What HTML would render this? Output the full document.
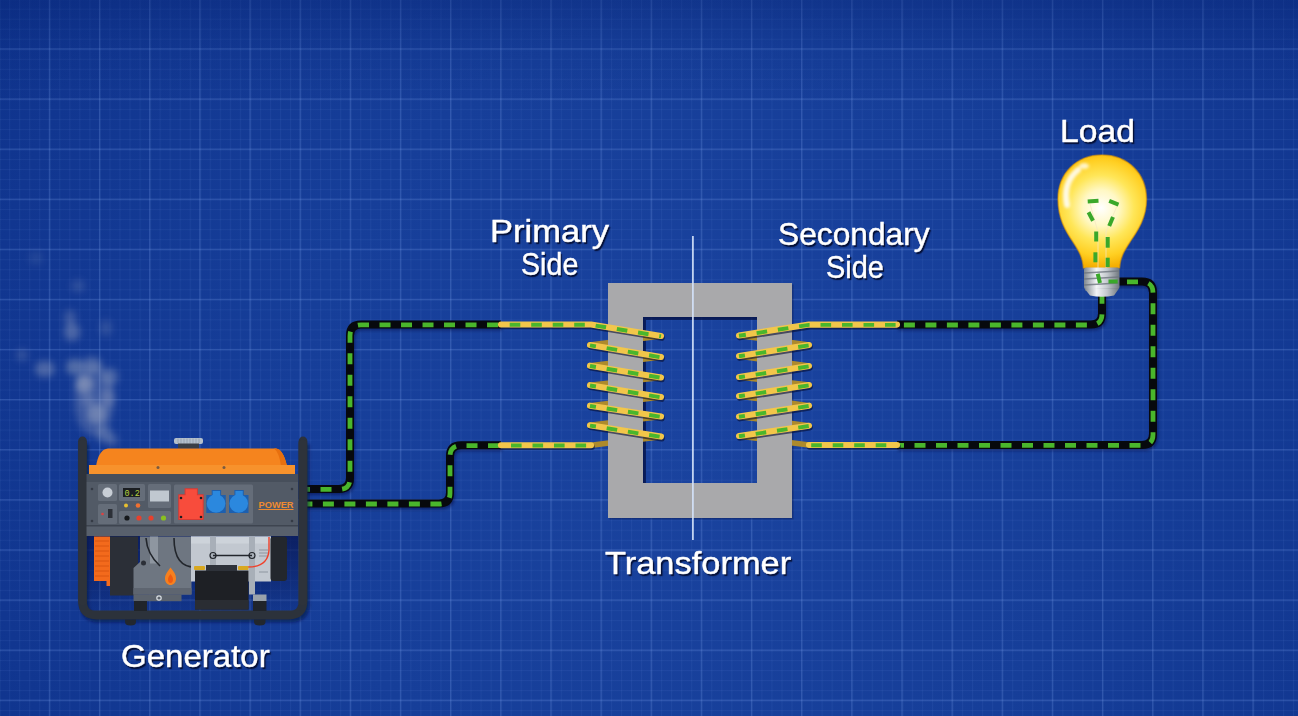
<!DOCTYPE html>
<html><head><meta charset="utf-8">
<style>
html,body{margin:0;padding:0;width:1298px;height:716px;overflow:hidden;background:#163e98;}
svg{display:block;position:absolute;left:0;top:0;}
.lbl{position:absolute;font-family:"Liberation Sans",sans-serif;font-size:32px;color:#fff;white-space:nowrap;line-height:1;
 -webkit-text-stroke:0.45px #fff;text-shadow:1.5px 1.8px 1.2px rgba(2,8,40,0.95);transform-origin:0 0;}
</style></head><body>
<svg width="1298" height="716" viewBox="0 0 1298 716">
<defs>
  <radialGradient id="bg" cx="700" cy="430" r="900" gradientUnits="userSpaceOnUse">
    <stop offset="0" stop-color="#1a439f"/>
    <stop offset="0.45" stop-color="#163e99"/>
    <stop offset="0.8" stop-color="#113690"/>
    <stop offset="1" stop-color="#0b2f88"/>
  </radialGradient>
  <linearGradient id="topdark" x1="0" y1="0" x2="0" y2="1">
    <stop offset="0" stop-color="#06206e" stop-opacity="0.3"/>
    <stop offset="0.07" stop-color="#06206e" stop-opacity="0.08"/>
    <stop offset="0.15" stop-color="#06206e" stop-opacity="0"/>
  </linearGradient>
  <pattern id="minor" x="49.3" y="48.8" width="10.03" height="10.02" patternUnits="userSpaceOnUse">
    <rect x="0" y="0" width="10.03" height="1" fill="#7096e6" fill-opacity="0.085"/>
    <rect x="0" y="0" width="1" height="10.02" fill="#7096e6" fill-opacity="0.085"/>
  </pattern>
  <pattern id="major" x="48.8" y="48.3" width="50.15" height="50.1" patternUnits="userSpaceOnUse">
    <rect x="0" y="0" width="50.15" height="1.3" fill="#7aa0ea" fill-opacity="0.24"/>
    <rect x="0" y="0" width="1.3" height="50.1" fill="#7aa0ea" fill-opacity="0.24"/>
  </pattern>
  <filter id="blur4" x="-50%" y="-50%" width="200%" height="200%"><feGaussianBlur stdDeviation="3.5"/></filter>
  <filter id="blur6" x="-50%" y="-50%" width="200%" height="200%"><feGaussianBlur stdDeviation="6"/></filter>
  <filter id="blur2" x="-20%" y="-20%" width="140%" height="140%"><feGaussianBlur stdDeviation="1.5"/></filter>
  <filter id="shadow" x="-10%" y="-10%" width="130%" height="130%">
    <feGaussianBlur in="SourceAlpha" stdDeviation="1.5"/>
    <feOffset dx="2" dy="2" result="o"/>
    <feComponentTransfer><feFuncA type="linear" slope="0.6"/></feComponentTransfer>
    <feMerge><feMergeNode/><feMergeNode in="SourceGraphic"/></feMerge>
  </filter>
  <radialGradient id="bulbg" cx="1101" cy="208" r="60" gradientUnits="userSpaceOnUse">
    <stop offset="0" stop-color="#ffffff"/>
    <stop offset="0.3" stop-color="#fff8c4"/>
    <stop offset="0.55" stop-color="#ffe658"/>
    <stop offset="0.8" stop-color="#ffcf22"/>
    <stop offset="1" stop-color="#f4ad00"/>
  </radialGradient>
  <linearGradient id="baseg" x1="0" y1="0" x2="1" y2="0">
    <stop offset="0" stop-color="#7f878f"/>
    <stop offset="0.35" stop-color="#f2f4f6"/>
    <stop offset="0.65" stop-color="#c4c9ce"/>
    <stop offset="1" stop-color="#6f777f"/>
  </linearGradient>
</defs>

<!-- background -->
<rect width="1298" height="716" fill="url(#bg)"/>
<rect width="1298" height="716" fill="url(#minor)"/>
<rect width="1298" height="716" fill="url(#major)"/>
<rect width="1298" height="716" fill="url(#topdark)"/>

<!-- smoke -->
<g filter="url(#blur4)" fill="#a0aac2"><ellipse cx="94" cy="400" rx="20" ry="36" fill-opacity="0.28"/><ellipse cx="84" cy="384" rx="9" ry="9" fill-opacity="0.6"/><ellipse cx="97" cy="414" rx="10" ry="10" fill-opacity="0.5"/><ellipse cx="110" cy="377" rx="8" ry="9" fill-opacity="0.38"/><ellipse cx="75" cy="367" rx="9" ry="8" fill-opacity="0.45"/><ellipse cx="92" cy="365" rx="10" ry="8" fill-opacity="0.38"/><ellipse cx="45" cy="369" rx="10" ry="8" fill-opacity="0.4"/><ellipse cx="22" cy="355" rx="6" ry="6" fill-opacity="0.22"/><ellipse cx="72" cy="332" rx="8" ry="9" fill-opacity="0.4"/><ellipse cx="104" cy="434" rx="8" ry="8" fill-opacity="0.38"/><ellipse cx="88" cy="400" rx="7" ry="7" fill-opacity="0.3"/><ellipse cx="108" cy="398" rx="7" ry="10" fill-opacity="0.35"/><ellipse cx="70" cy="318" rx="6" ry="8" fill-opacity="0.28"/><ellipse cx="78" cy="286" rx="7" ry="6" fill-opacity="0.2"/><ellipse cx="106" cy="328" rx="6" ry="8" fill-opacity="0.2"/><ellipse cx="36" cy="258" rx="7" ry="7" fill-opacity="0.12"/><ellipse cx="112" cy="440" rx="6" ry="6" fill-opacity="0.3"/></g>

<!-- wires (black parts) -->
<g fill="none" stroke-linecap="butt" stroke-linejoin="round">
  <g stroke="#020a30" stroke-opacity="0.45" stroke-width="8" transform="translate(1.2,2)" filter="url(#blur2)">
    <path d="M300 489 H339 Q350 489 350 478 V335.5 Q350 324.5 361 324.5 H501"/><path d="M300 503.6 H439 Q450 503.6 450 492.6 V456.2 Q450 445.2 461 445.2 H501"/><path d="M897 324.6 H1091 Q1102 324.6 1102 313.6 V290"/><path d="M897 445 H1142 Q1153 445 1153 434 V292.5 Q1153 281.5 1142 281.5 H1110"/>
  </g>
  <g stroke="#07090d" stroke-width="8">
    <path d="M300 489 H339 Q350 489 350 478 V335.5 Q350 324.5 361 324.5 H501"/><path d="M300 503.6 H439 Q450 503.6 450 492.6 V456.2 Q450 445.2 461 445.2 H501"/><path d="M897 324.6 H1091 Q1102 324.6 1102 313.6 V290"/><path d="M897 445 H1142 Q1153 445 1153 434 V292.5 Q1153 281.5 1142 281.5 H1110"/>
  </g>
  <g stroke="#4ab62c" stroke-width="4.8" stroke-dasharray="11 10.5" transform="translate(0,0.4)">
    <path d="M300 489 H339 Q350 489 350 478 V335.5 Q350 324.5 361 324.5 H501" stroke-dashoffset="1"/><path d="M300 503.6 H439 Q450 503.6 450 492.6 V456.2 Q450 445.2 461 445.2 H501" stroke-dashoffset="-1.4"/><path d="M897 324.6 H1091 Q1102 324.6 1102 313.6 V290" stroke-dashoffset="14.6"/><path d="M897 445 H1142 Q1153 445 1153 434 V292.5 Q1153 281.5 1142 281.5 H1110" stroke-dashoffset="4"/>
  </g>
</g>

<!-- transformer core -->
<path d="M608 283 H792 V518 H608 Z M643 317 V483 H757 V317 Z" fill="#0a1a55" fill-opacity="0.45" transform="translate(1.5,1.5)" fill-rule="evenodd"/>
<path d="M608 283 H792 V518 H608 Z M643 317 V483 H757 V317 Z" fill="#adadad" fill-rule="evenodd"/>
<path d="M643 317 H757 V320 H646 V483 H643 Z" fill="#061348" fill-opacity="0.75"/>
<path d="M608 283 H792 V284 H609 V518 H608 Z" fill="#c8c8c8" fill-opacity="0.6"/>

<!-- coils -->
<g fill="none" stroke-linecap="round" stroke-linejoin="round">
<g stroke="#ad8a2c" stroke-width="5.6"><path d="M661 336 L590 345"/><path d="M661 357 L590 365.7"/><path d="M661 377.4 L590 385.2"/><path d="M661 397 L590 405.7"/><path d="M661 416.5 L590 425.3"/><path d="M661 436.6 L591 445.2"/><path d="M739 335.5 L809 345"/><path d="M739 356 L809 366"/><path d="M739 377 L809 385"/><path d="M739 396 L809 405.7"/><path d="M739 416.5 L809 425.7"/><path d="M739 436 L809 445"/></g>
</g>
<path d="M608 283 H792 V518 H608 Z M643 317 V483 H757 V317 Z" fill="#a9a9ab" fill-rule="evenodd"/>
<g fill="none" stroke-linecap="round" stroke-linejoin="round">
<g stroke="#050c2e" stroke-opacity="0.6" stroke-width="6.1" transform="translate(0.8,1.8)"><path d="M501 324.5 H591 L661 336"/><path d="M590 345 L661 357"/><path d="M590 365.7 L661 377.4"/><path d="M590 385.2 L661 397"/><path d="M590 405.7 L661 416.5"/><path d="M590 425.3 L661 436.6"/><path d="M501 445.2 H591"/><path d="M897 324.6 H809 L739 335.5"/><path d="M739 356 L809 345"/><path d="M739 377 L809 366"/><path d="M739 396 L809 385"/><path d="M739 416.5 L809 405.7"/><path d="M739 436 L809 425.7"/><path d="M897 445 H809"/></g>
<g stroke="#f2c64a" stroke-width="6.1"><path d="M501 324.5 H591 L661 336"/><path d="M590 345 L661 357"/><path d="M590 365.7 L661 377.4"/><path d="M590 385.2 L661 397"/><path d="M590 405.7 L661 416.5"/><path d="M590 425.3 L661 436.6"/><path d="M501 445.2 H591"/><path d="M897 324.6 H809 L739 335.5"/><path d="M739 356 L809 345"/><path d="M739 377 L809 366"/><path d="M739 396 L809 385"/><path d="M739 416.5 L809 405.7"/><path d="M739 436 L809 425.7"/><path d="M897 445 H809"/></g>
<g stroke="#4ab62c" stroke-width="3.9" stroke-dasharray="10.6 10.9" stroke-linecap="butt" transform="translate(0,0.3)"><path d="M501 324.5 H591 L661 336" stroke-dashoffset="12.8"/><path d="M590 345 L661 357" stroke-dashoffset="4.6"/><path d="M590 365.7 L661 377.4" stroke-dashoffset="4.6"/><path d="M590 385.2 L661 397" stroke-dashoffset="4.6"/><path d="M590 405.7 L661 416.5" stroke-dashoffset="4.6"/><path d="M590 425.3 L661 436.6" stroke-dashoffset="4.6"/><path d="M501 445.2 H591" stroke-dashoffset="11.5"/><path d="M897 324.6 H809 L739 335.5" stroke-dashoffset="20.1"/><path d="M739 356 L809 345" stroke-dashoffset="4.6"/><path d="M739 377 L809 366" stroke-dashoffset="4.6"/><path d="M739 396 L809 385" stroke-dashoffset="4.6"/><path d="M739 416.5 L809 405.7" stroke-dashoffset="4.6"/><path d="M739 436 L809 425.7" stroke-dashoffset="4.6"/><path d="M897 445 H809" stroke-dashoffset="10.8"/></g>
</g>

<!-- center line -->
<rect x="692" y="236" width="1.8" height="304" fill="#d4e2fa" fill-opacity="0.9"/>

<!-- bulb -->
<g>
  <path d="M1102 155 C1128 155 1146.5 174 1146.5 199 C1146.5 218 1138 230 1130 242 C1124 251 1120 258 1119.5 268 H1083.5 C1083 258 1079 251 1073 242 C1065 230 1058 218 1058 199 C1058 174 1076 155 1102 155 Z" fill="url(#bulbg)"/>
  <path d="M1102 155 C1128 155 1146.5 174 1146.5 199 C1146.5 218 1138 230 1130 242 C1124 251 1120 258 1119.5 268 H1083.5 C1083 258 1079 251 1073 242 C1065 230 1058 218 1058 199 C1058 174 1076 155 1102 155 Z" fill="none" stroke="#e39a00" stroke-width="1.5" stroke-opacity="0.55"/>
  <g filter="url(#blur2)">
    <path d="M1067 205 C1064 190 1068 178 1078 170" stroke="#ffffff" stroke-width="6" fill="none" stroke-linecap="round" stroke-opacity="0.85"/>
    <ellipse cx="1084" cy="166" rx="5" ry="3" fill="#ffffff" fill-opacity="0.75"/>
  </g>
  <g stroke="#f4e6c0" stroke-width="0.8" fill="none" stroke-opacity="0.9">
    <path d="M1090 204 L1098 232 V268"/><path d="M1117 206 L1106 232 V268"/>
  </g>
  <rect x="1084" y="267.5" width="35.5" height="21.5" rx="2" fill="url(#baseg)"/>
  <g stroke="#6e767e" stroke-width="1.3" stroke-opacity="0.8"><path d="M1084 273 L1119 271"/><path d="M1084 279 L1119 277"/><path d="M1084 285 L1119 283"/><path d="M1085 290 L1118 289"/></g>
  <path d="M1084.5 288.5 H1119 L1114 295.5 Q1102 298 1090 295.5 Z" fill="url(#baseg)"/>
  <g fill="none" stroke-linecap="butt" stroke="#3aa82a" stroke-width="4">
    <path d="M1087.7 201.5 L1098.5 200.8"/><path d="M1109.2 200.8 L1118.5 204.6"/>
    <path d="M1088.5 212.3 L1093 220.8"/><path d="M1113 217 L1109.2 226"/>
    <path d="M1096.2 231.5 V241.5"/><path d="M1107.7 237 V247.7"/>
    <path d="M1095.4 252.3 V262.3"/><path d="M1107.7 257.7 V267"/>
    <path d="M1097.7 273.8 L1100 283"/><path d="M1108.5 281.5 H1117.7"/>
  </g>
</g>

<!-- generator -->
<g id="gen">
  <!-- frame back part -->
  <path d="M82.5 441 V601 Q82.5 615 96.5 615 H289 Q303 615 303 601 V441" fill="none" stroke="#040c38" stroke-opacity="0.55" stroke-width="9" transform="translate(2,3)" filter="url(#blur2)"/>
  <linearGradient id="genshadow" x1="0" y1="0" x2="0" y2="1"><stop offset="0" stop-color="#081550" stop-opacity="0.75"/><stop offset="1" stop-color="#081550" stop-opacity="0.15"/></linearGradient>
  <rect x="86" y="536" width="212" height="75" fill="url(#genshadow)"/>
  <path d="M82.5 441 V601 Q82.5 615 96.5 615 H289 Q303 615 303 601 V441" fill="none" stroke="#2c323b" stroke-width="8.8" stroke-linecap="round"/>
  <path d="M125 619.5 H136 V622 Q136 625.5 130.5 625.5 Q125 625.5 125 622 Z" fill="#22272e"/>
  <path d="M254 619.5 H265.5 V622 Q265.5 625.5 259.75 625.5 Q254 625.5 254 622 Z" fill="#22272e"/>
  <!-- cap -->
  <rect x="174" y="438" width="29" height="6" rx="2" fill="#b4c0cc"/>
  <g stroke="#8e9aa6" stroke-width="0.7"><path d="M178 438.5 V443.5 M181 438.5 V443.5 M184 438.5 V443.5 M187 438.5 V443.5 M190 438.5 V443.5 M193 438.5 V443.5 M196 438.5 V443.5 M199 438.5 V443.5"/></g>
  <rect x="178" y="443.5" width="21" height="5" fill="#3a3f47"/>
  <!-- orange tank -->
  <path d="M89 474 V466 H96 Q99 449 108 448.5 H276 Q283 449 287 466 H295 V474 Z" fill="#f5841e"/>
  <path d="M276 448.5 Q283 449 287 466 H281 Q279 452 274 448.5 Z" fill="#e8700f"/>
  <rect x="89" y="465" width="206" height="9" fill="#f7922c"/>
  <circle cx="158" cy="467.5" r="1.5" fill="#7a5a40"/><circle cx="224" cy="467.5" r="1.5" fill="#7a5a40"/>
  <!-- engine parts -->
  <path d="M94 536.5 H110 V586 H106.5 V581 H94 Z" fill="#f36a1c"/>
  <g stroke="#d25010" stroke-width="0.8"><path d="M95 541 H109 M95 546 H109 M95 551 H109 M95 556 H109 M95 561 H109 M95 566 H109 M95 571 H109 M95 576 H109"/></g>
  <rect x="110" y="536.5" width="28" height="59" fill="#2b2f37"/>
  <path d="M133.5 536.5 H191.5 V594.5 H133.5 V568 L140 562 V536.5 Z" fill="#6e7681"/>
  <rect x="133.5" y="588" width="58" height="6.5" fill="#5e6570"/>
  <rect x="150" y="536.5" width="8" height="27" fill="#8e96a0"/>
  <circle cx="143.5" cy="563" r="2.5" fill="#2b2f37"/>
  <path d="M146 538 Q147 554 160 566" stroke="#22262c" stroke-width="1.6" fill="none"/>
  <path d="M174 538 Q174 568 196 567" stroke="#22262c" stroke-width="1.6" fill="none"/>
  <path d="M170.5 567.5 C173.5 571 176 574.5 176 578.5 C176 582.5 173.5 585 170.5 585 C167.5 585 165 582.5 165 578.5 C165 574.5 168 571 170.5 567.5 Z" fill="#f7801e"/>
  <path d="M170.5 574 C172 576 173 577.5 173 579.5 C173 581.5 172 583 170.5 583 C169 583 168 581.5 168 579.5 C168 577.5 169 576 170.5 574 Z" fill="#f05a10"/>
  <rect x="133.5" y="594.5" width="48" height="6.7" fill="#5c636d"/>
  <circle cx="159" cy="598" r="2.2" fill="none" stroke="#d8dde2" stroke-width="1.2"/>
  <rect x="134" y="601" width="13" height="10" fill="#20242a"/>
  <rect x="191" y="536.5" width="80" height="45" fill="#c2c8d0"/>
  <rect x="191" y="536.5" width="80" height="7" fill="#cdd3da"/>
  <rect x="210" y="536.5" width="6" height="45" fill="#a8afb8"/>
  <rect x="249" y="536.5" width="6" height="58" fill="#a8afb8"/>
  <path d="M213 555.5 H252" stroke="#22262c" stroke-width="1.6"/>
  <circle cx="213" cy="555.5" r="3" fill="none" stroke="#22262c" stroke-width="1.2"/><circle cx="252" cy="555.5" r="3" fill="none" stroke="#22262c" stroke-width="1.2"/>
  <g stroke="#8e96a0" stroke-width="1"><path d="M259 550 H268 M259 553 H268 M259 556 H268 M259 572 H268"/></g>
  <rect x="270.5" y="536.5" width="16.5" height="44.5" rx="3" fill="#23272d"/>
  <path d="M248 567 Q268 567 269 550 V537" stroke="#f0402a" stroke-width="1.4" fill="none"/>
  <rect x="253" y="601" width="13.5" height="10" fill="#20242a"/>
  <rect x="253" y="594.5" width="13.5" height="6.5" fill="#9aa2ab"/>
  <rect x="195" y="570.5" width="53.5" height="39" fill="#1e2025"/>
  <rect x="195" y="600" width="53.5" height="9.5" fill="#2a2d33"/>
  <rect x="206" y="565" width="31" height="6" fill="#2e323a"/>
  <rect x="194" y="566" width="11" height="4" rx="1" fill="#d8a820"/>
  <rect x="238" y="566" width="10.5" height="4" rx="1" fill="#d8a820"/>
  <!-- control panel -->
  <rect x="86" y="474" width="212" height="62" fill="#525a66"/>
  <rect x="86" y="474" width="212" height="8" fill="#474f5b"/>
  <rect x="86" y="525" width="212" height="11" fill="#58606c"/><rect x="86" y="525" width="212" height="1.5" fill="#3e4550"/>
  <rect x="98" y="484" width="19" height="17" rx="1.5" fill="#656d79"/>
  <circle cx="107.5" cy="492.5" r="5" fill="#c8ced6"/>
  <rect x="98" y="504" width="19" height="20" rx="1.5" fill="#656d79"/>
  <circle cx="102.5" cy="514" r="1.3" fill="#e04040"/>
  <rect x="108" y="509" width="4.5" height="9" fill="#2c3038"/>
  <rect x="119" y="484" width="26" height="17" rx="1.5" fill="#656d79"/>
  <rect x="123" y="488" width="17" height="9" fill="#1b1e22"/>
  <text x="124.5" y="495.8" font-family="Liberation Mono" font-size="8.5" fill="#b8d040">0.2</text>
  <circle cx="126" cy="505.5" r="2" fill="#e8c030"/>
  <circle cx="138" cy="505.5" r="2.3" fill="#f07030"/>
  <rect x="119" y="511" width="52" height="13" rx="1.5" fill="#656d79"/>
  <circle cx="127" cy="518" r="2.6" fill="#15181c"/>
  <circle cx="139" cy="518" r="2.6" fill="#e8402c"/>
  <circle cx="151" cy="518" r="2.6" fill="#e8402c"/>
  <circle cx="163.5" cy="518" r="2.6" fill="#8ac020"/>
  <rect x="148" y="484" width="23" height="24" rx="1.5" fill="#656d79"/>
  <rect x="150" y="490.5" width="19" height="11" fill="#c0c8d0"/>
  <rect x="174" y="484.5" width="79" height="39" rx="1.5" fill="#656d79"/>
  <path d="M178.2 494.3 H184.6 V488.2 H197.9 V494.3 H203.7 V520 H178.2 Z" fill="#d83a34"/><path d="M179.2 495.3 H185.6 V489.2 H196.9 V495.3 H202.7 V519 H179.2 Z" fill="#f84c3c"/>
  <g fill="#1b1e22"><circle cx="181" cy="498" r="1.3"/><circle cx="201" cy="498" r="1.3"/><circle cx="181" cy="517" r="1.3"/><circle cx="201" cy="517" r="1.3"/></g>
  <path d="M206.3 495 H211.70000000000002 V490 H221.10000000000002 V495 H225.8 V513 H206.3 Z" fill="#1d5fae"/><circle cx="216.05" cy="503.5" r="9.3" fill="#2b88de"/><rect x="212.70000000000002" y="491" width="7.4" height="6" fill="#2b88de"/>
  <path d="M229 495 H234.4 V490 H243.8 V495 H248.5 V513 H229 Z" fill="#1d5fae"/><circle cx="238.75" cy="503.5" r="9.3" fill="#2b88de"/><rect x="235.4" y="491" width="7.4" height="6" fill="#2b88de"/>
  <text x="258.5" y="507.5" font-family="Liberation Sans" font-weight="bold" font-size="9.5" fill="#f08a30" textLength="35" lengthAdjust="spacingAndGlyphs">POWER</text>
  <rect x="258.5" y="509" width="35" height="1" fill="#f08a30"/>
  <g fill="#353b45"><circle cx="92" cy="489" r="1.3"/><circle cx="92" cy="521" r="1.3"/><circle cx="292" cy="489" r="1.3"/><circle cx="292" cy="521" r="1.3"/></g>
  <!-- frame front verticals -->
  <rect x="78.5" y="440" width="8" height="165" rx="3" fill="#2e333b"/>
  <rect x="298.5" y="440" width="8" height="165" rx="3" fill="#2e333b"/>
</g>
</svg>

<div class="lbl" style="left:490px;top:215px;transform:scaleX(1.079);">Primary</div>
<div class="lbl" style="left:521px;top:248px;transform:scaleX(0.895);">Side</div>
<div class="lbl" style="left:778px;top:218px;transform:scaleX(0.991);">Secondary</div>
<div class="lbl" style="left:825.5px;top:251px;transform:scaleX(0.905);">Side</div>
<div class="lbl" style="left:604.7px;top:547px;transform:scaleX(1.076);">Transformer</div>
<div class="lbl" style="left:121px;top:640px;transform:scaleX(1.032);">Generator</div>
<div class="lbl" style="left:1060px;top:115px;transform:scaleX(1.052);">Load</div>
</body></html>
